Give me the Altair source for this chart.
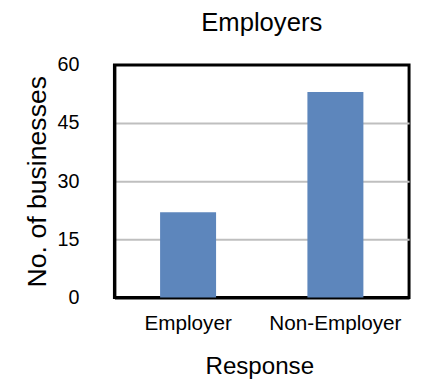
import altair as alt
import pandas as pd

categories = ["Employer", "Non-Employer"]
values = [22, 53]
y_ticks = [0, 15, 30, 45, 60]

df = pd.DataFrame({"Response": categories, "Count": values})

FONT = "Liberation Sans"

chart = alt.Chart(df).mark_bar(color="#5d86bc", width={"band": 0.38}).encode(
    x=alt.X(
        "Response:N",
        sort=categories,
        scale=alt.Scale(paddingInner=0, paddingOuter=0),
        axis=alt.Axis(
            title="Response",
            labelAngle=0,
            labelFontSize=21,
            labelFont=FONT,
            labelColor="black",
            labelPadding=16,
            ticks=False,
            domain=True,
            domainColor="black",
            domainWidth=3,
            titleFontSize=24.5,
            titleFont=FONT,
            titleFontWeight="normal",
            titleColor="black",
            titleBaseline="alphabetic",
            titleX=147,
            titleY=77,
            grid=False,
        ),
    ),
    y=alt.Y(
        "Count:Q",
        scale=alt.Scale(domain=[0, 60], nice=False),
        axis=alt.Axis(
            title="No. of businesses",
            values=y_ticks,
            labelFontSize=20,
            labelFont=FONT,
            labelColor="black",
            labelPadding=36,
            ticks=False,
            domain=True,
            domainColor="black",
            domainWidth=3,
            grid=True,
            gridColor={
                "condition": {"test": "datum.value == 0 || datum.value == 60", "value": "transparent"},
                "value": "#bfbfbf",
            },
            gridWidth=2,
            titleFontSize=27,
            titleFont=FONT,
            titleFontWeight="normal",
            titleColor="black",
            titleBaseline="alphabetic",
            titleAngle=270,
            titleX=-70,
            titleY=118,
        ),
    ),
).properties(
    width=299,
    height=236,
    title=alt.TitleParams(
        "Employers",
        fontSize=26,
        font=FONT,
        fontWeight="normal",
        color="black",
        anchor="middle",
        baseline="bottom",
        offset=17,
        dy=24,
    ),
    autosize=alt.AutoSizeParams(type="none"),
    padding={"left": 108, "top": 55, "right": 4, "bottom": 82},
).configure_view(
    stroke="#000000", strokeWidth=3, strokeOpacity=1
)

chart.save("out.html", embed_options={"renderer": "svg", "actions": False})
